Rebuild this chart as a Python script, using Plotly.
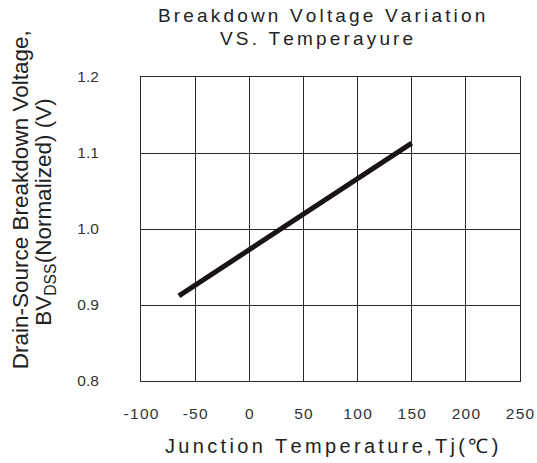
import plotly.graph_objects as go

# Data
temperature = [-65, 150]
bv_normalized = [0.912, 1.113]

x_ticks = [-100, -50, 0, 50, 100, 150, 200, 250]
y_ticks = [0.8, 0.9, 1.0, 1.1, 1.2]
y_tick_labels = ["0.8", "0.9", "1.0", "1.1", "1.2"]

title_line1 = "Breakdown Voltage Variation"
title_line2 = "VS. Temperayure"
x_title = "Junction Temperature,Tj(\u2103)"
y_title_line1 = "Drain-Source Breakdown Voltage,"
y_title_line2 = "BV<sub>DSS</sub>(Normalized) (V)"

FONT = "Liberation Sans, Arial, sans-serif"
SIXTH = "\u2006"


def spaced(s, sep=SIXTH):
    return sep.join(list(s))


fig = go.Figure()
fig.add_trace(go.Scatter(
    x=temperature, y=bv_normalized, mode="lines",
    line=dict(color="#1a1414", width=5),
    showlegend=False, hoverinfo="skip",
))

grid = "#2a2a2a"
fig.update_xaxes(
    range=[-100, 250], tickvals=x_ticks,
    ticktext=[spaced(str(v), "\u200a") for v in x_ticks],
    showgrid=True, gridcolor=grid, gridwidth=1,
    showline=True, linecolor=grid, linewidth=1, mirror=True,
    zeroline=False, ticks="outside", ticklen=18, tickcolor="rgba(0,0,0,0)",
    tickfont=dict(family=FONT, size=15.5, color="#333333"),
    automargin=False,
)
fig.update_yaxes(
    range=[0.8, 1.2], tickvals=y_ticks, ticktext=y_tick_labels,
    showgrid=True, gridcolor=grid, gridwidth=1,
    showline=True, linecolor=grid, linewidth=1, mirror=True,
    zeroline=False, ticks="outside", ticklen=38, tickcolor="rgba(0,0,0,0)",
    tickfont=dict(family=FONT, size=15.5, color="#333333"),
    automargin=False,
)

ann_font = dict(family=FONT, color="#222222")
annotations = [
    dict(text=spaced(title_line1), x=0.476, y=1.203, font=dict(size=19, **ann_font)),
    dict(text=spaced(title_line2), x=0.463, y=1.128, font=dict(size=19, **ann_font)),
    dict(text=spaced(x_title), x=0.503, y=-0.215, font=dict(size=20, **ann_font)),
    dict(text=y_title_line1, x=-0.319, y=0.595, textangle=-90, font=dict(size=22.5, **ann_font)),
    dict(text=y_title_line2, x=-0.252, y=0.555, textangle=-90, font=dict(size=22.5, **ann_font)),
]
for a in annotations:
    a.update(xref="paper", yref="paper", showarrow=False, xanchor="center", yanchor="middle")

fig.update_layout(
    width=537, height=463,
    margin=dict(l=141, r=17, t=77, b=82),
    paper_bgcolor="white", plot_bgcolor="white",
    annotations=annotations,
    font=dict(family=FONT),
)

fig.write_html("out.html", config={"displayModeBar": False},
               post_script="document.body.style.margin='0';")
